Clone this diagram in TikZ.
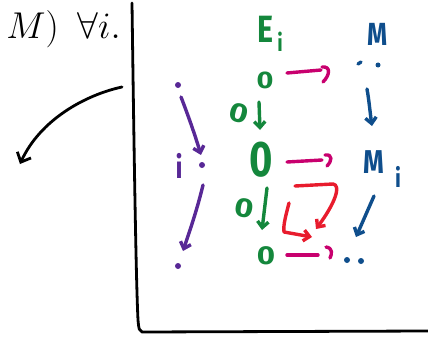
\documentclass[tikz,border=0pt]{standalone}
\usepackage{fontspec}
\newfontfamily\hand[FakeStretch=0.8]{Fira Sans}
\newfontfamily\handw[FakeStretch=1.2]{Fira Sans}
\usetikzlibrary{arrows.meta}
\definecolor{hpurple}{RGB}{88,40,150}
\definecolor{hgreen}{RGB}{20,135,60}
\definecolor{hmag}{RGB}{200,0,110}
\definecolor{hblue}{RGB}{15,78,140}
\definecolor{hred}{RGB}{232,28,45}
\tikzset{
  ink/.style={line width=3.4pt, line cap=round, line join=round},
  barb/.style={-{Straight Barb[length=6pt,width=11pt]}},
  hw/.style={inner sep=0pt, font=\hand\bfseries\fontsize{#1}{#1}\selectfont},
  hz/.style={inner sep=0pt, font=\handw\bfseries\fontsize{#1}{#1}\selectfont},
  blk/.style={line width=2.8pt, line cap=round, line join=round, black},
  dotp/.style={circle, fill, inner sep=0pt, minimum size=6pt}
}
\begin{document}
\begin{tikzpicture}[x=1pt,y=-1pt]
\useasboundingbox (0,0) rectangle (428,337);
\clip (0,0) rectangle (428,337);
% header formula
\node[anchor=base east, inner sep=0pt] (hdr) at (121,38) {\scalebox{1.5}{\fontsize{24.88}{28}\selectfont$M)\enspace\forall i.$}};
% axes
\coordinate (ytop) at (132,3);
\coordinate (corner) at (142,332);
\coordinate (xend) at (428,331);
\draw[blk] (ytop) .. controls (134,150) and (136,280) .. (138,320) .. controls (139,330) .. (corner) -- (xend);
% black curved arrow
\coordinate (ca) at (122,87);
\coordinate (cb) at (20,164);
\draw[blk,-{Straight Barb[length=8pt,width=15pt]}] (ca) .. controls (85,95) and (40,120) .. (cb);
% purple column
\begin{scope}[hpurple]
\node[dotp] (p1) at (178,85) {};
\node[hw=31] (pi) at (179,166) {i};
\node[dotp] (p2) at (202,165) {};
\node[dotp] (p3) at (178,266) {};
\draw[ink,barb] (181,97) .. controls (188,115) and (195,135) .. (201,155);
\draw[ink,barb] (203,185) .. controls (197,210) and (190,230) .. (183,251);
\end{scope}
% green column
\begin{scope}[hgreen]
\node[hw=38] (E) at (265,29) {E};
\node[hw=24] (Ei) at (280,42) {i};
\node[hz=24] (z1) at (265,80) {0};
\node[hz=27, rotate=-15] (z2) at (239,113) {0};
\node[hw=50] (z3) at (261,160) {0};
\node[hz=27, rotate=-10] (z4) at (244,208) {0};
\node[hz=26] (z5) at (266,256) {0};
\draw[ink,barb] (259,102) -- (260,130);
\draw[ink,barb] (267,188) -- (262,230);
\end{scope}
% magenta arrows
\begin{scope}[hmag]
\draw[ink] (287,73) -- (321,70);
\draw[ink] (322,67) .. controls (331,66) and (330,75) .. (323,82);
\draw[ink] (287,162) -- (322,160);
\draw[ink] (325,155) .. controls (333,154) and (332,161) .. (327,166);
\draw[ink] (287,255) -- (318,255);
\draw[ink] (326,247) .. controls (333,248) and (332,254) .. (330,258);
\end{scope}
% blue column
\begin{scope}[hblue]
\node[hw=32] (M) at (378,34) {M};
\draw[ink] (358,64) -- (361,62);
\node[dotp, minimum size=5pt] (bd1) at (378,65) {};
\draw[ink,barb] (367,89) .. controls (369,100) and (370,112) .. (372,126);
\node[hw=33] (Mi) at (374,162) {M};
\node[hw=26] (Mii) at (398,177) {i};
\draw[ink,barb] (374,196) -- (356,237);
\node[dotp, minimum size=6pt] (bd2) at (347,260) {};
\node[dotp, minimum size=6pt] (bd3) at (361,261) {};
\end{scope}
% red arrows
\begin{scope}[hred]
\draw[ink,barb] (295,186) -- (333,184) .. controls (341,185) and (336,202) .. (316,229);
\draw[ink,barb] (289,203) .. controls (286,215) and (283,225) .. (284,232) -- (312,237);
\end{scope}
\end{tikzpicture}
\end{document}
